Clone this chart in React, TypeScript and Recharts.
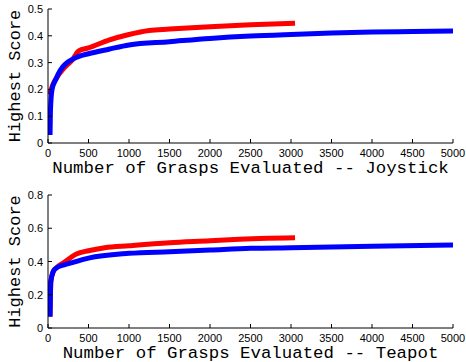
import { LineChart, Line, XAxis, YAxis } from 'recharts'

const xTicks = [0, 500, 1000, 1500, 2000, 2500, 3000, 3500, 4000, 4500, 5000]
const joyTicks = [0, 0.1, 0.2, 0.3, 0.4, 0.5]
const teaTicks = [0, 0.2, 0.4, 0.6, 0.8]

const joyBlueX = [25, 30, 50, 100, 150, 200, 250, 300, 400, 500, 750, 1000, 1500, 2000, 2500, 3000, 3500, 4000, 4500, 5000]
const joyBlueY = [0.03, 0.12, 0.2, 0.24, 0.27, 0.29, 0.303, 0.312, 0.325, 0.333, 0.35, 0.366, 0.378, 0.39, 0.399, 0.405, 0.41, 0.414, 0.416, 0.418]
const joyRedX = [20, 50, 100, 200, 300, 380, 500, 750, 1000, 1250, 1500, 2000, 2500, 3050]
const joyRedY = [0.18, 0.21, 0.24, 0.28, 0.31, 0.344, 0.355, 0.384, 0.405, 0.42, 0.425, 0.434, 0.441, 0.447]

const teaBlueX = [25, 35, 65, 100, 200, 300, 500, 1000, 1500, 2000, 2500, 3000, 4000, 5000]
const teaBlueY = [0.068, 0.28, 0.34, 0.36, 0.38, 0.393, 0.42, 0.449, 0.459, 0.469, 0.479, 0.483, 0.491, 0.499]
const teaRedX = [25, 35, 65, 100, 200, 350, 500, 700, 1000, 1500, 2000, 2300, 3050]
const teaRedY = [0.07, 0.28, 0.34, 0.36, 0.395, 0.445, 0.465, 0.483, 0.495, 0.513, 0.525, 0.533, 0.543]

const zip = (xs: number[], ys: number[]) => xs.map((x, i) => ({ x, y: ys[i] }))

const tickFont = { fontFamily: 'Liberation Sans, Arial, sans-serif', fontSize: 11, fill: '#000' }
const titleFont = { fontFamily: 'Liberation Mono, Courier New, monospace', fontSize: 17.4, fill: '#000' }
const TL = 4

const BottomTick = (props: any) => {
    const { x, y, payload } = props
    return (
        <g>
            <line x1={x} y1={y} x2={x} y2={y - TL} stroke="#000" />
            <text x={x} y={y + 14} textAnchor="middle" {...tickFont}>{payload.value}</text>
        </g>
    )
}
const TopTick = (props: any) => {
    const { x, y } = props
    return <line x1={x} y1={y} x2={x} y2={y + TL} stroke="#000" />
}
const LeftTick = (props: any) => {
    const { x, y, payload } = props
    return (
        <g>
            <line x1={x} y1={y} x2={x + TL} y2={y} stroke="#000" />
            <text x={x - 5} y={y + 4} textAnchor="end" {...tickFont}>{payload.value}</text>
        </g>
    )
}
const RightTick = (props: any) => {
    const { x, y } = props
    return <line x1={x} y1={y} x2={x - TL} y2={y} stroke="#000" />
}

interface PanelProps {
    name: string
    yTicks: number[]
    blue: { x: number; y: number }[]
    red: { x: number; y: number }[]
    top: number
    bottom: number
}

const Panel = ({ name, yTicks, blue, red, top, bottom }: PanelProps) => {
    const yMax = yTicks[yTicks.length - 1]
    return (
        <LineChart width={466} height={181} margin={{ top, right: 13, bottom: 0, left: 0 }}>
            <XAxis
                xAxisId="b"
                type="number"
                dataKey="x"
                domain={[0, 5000]}
                ticks={xTicks}
                interval={0}
                tickSize={0}
                tickMargin={0}
                tickLine={false}
                tick={<BottomTick />}
                height={bottom}
                axisLine={{ stroke: '#000' }}
                allowDataOverflow
                label={{
                    value: `Number of Grasps Evaluated -- ${name}`,
                    position: 'insideBottom',
                    offset: bottom - 30,
                    ...titleFont,
                }}
            />
            <XAxis
                xAxisId="t"
                orientation="top"
                type="number"
                dataKey="x"
                domain={[0, 5000]}
                ticks={xTicks}
                interval={0}
                tickSize={0}
                tickMargin={0}
                tickLine={false}
                tick={<TopTick />}
                height={0}
                axisLine={{ stroke: '#000' }}
                allowDataOverflow
            />
            <YAxis
                yAxisId="l"
                type="number"
                domain={[0, yMax]}
                ticks={yTicks}
                interval={0}
                tickSize={0}
                tickMargin={0}
                tickLine={false}
                tick={<LeftTick />}
                width={48}
                axisLine={{ stroke: '#000' }}
                label={{
                    value: 'Highest Score',
                    angle: -90,
                    position: 'insideLeft',
                    offset: 14,
                    style: { textAnchor: 'middle' },
                    ...titleFont,
                    fontSize: 17,
                }}
            />
            <YAxis
                yAxisId="r"
                orientation="right"
                type="number"
                domain={[0, yMax]}
                ticks={yTicks}
                interval={0}
                tickSize={0}
                tickMargin={0}
                tickLine={false}
                tick={<RightTick />}
                width={0}
                axisLine={{ stroke: '#000' }}
            />
            <Line
                xAxisId="b"
                yAxisId="l"
                data={red}
                dataKey="y"
                type="monotone"
                stroke="#ff0000"
                strokeWidth={5}
                dot={false}
                isAnimationActive={false}
            />
            <Line
                xAxisId="b"
                yAxisId="l"
                data={blue}
                dataKey="y"
                type="monotone"
                stroke="#0000ff"
                strokeWidth={5}
                dot={false}
                isAnimationActive={false}
            />
        </LineChart>
    )
}

export default function App() {
    return (
        <div style={{ position: 'absolute', left: 0, top: 0, width: 466, height: 362, background: '#fff' }}>
            <Panel name="Joystick" yTicks={joyTicks} blue={zip(joyBlueX, joyBlueY)} red={zip(joyRedX, joyRedY)} top={9} bottom={38} />
            <Panel name="Teapot" yTicks={teaTicks} blue={zip(teaBlueX, teaBlueY)} red={zip(teaRedX, teaRedY)} top={14} bottom={34} />
        </div>
    )
}
